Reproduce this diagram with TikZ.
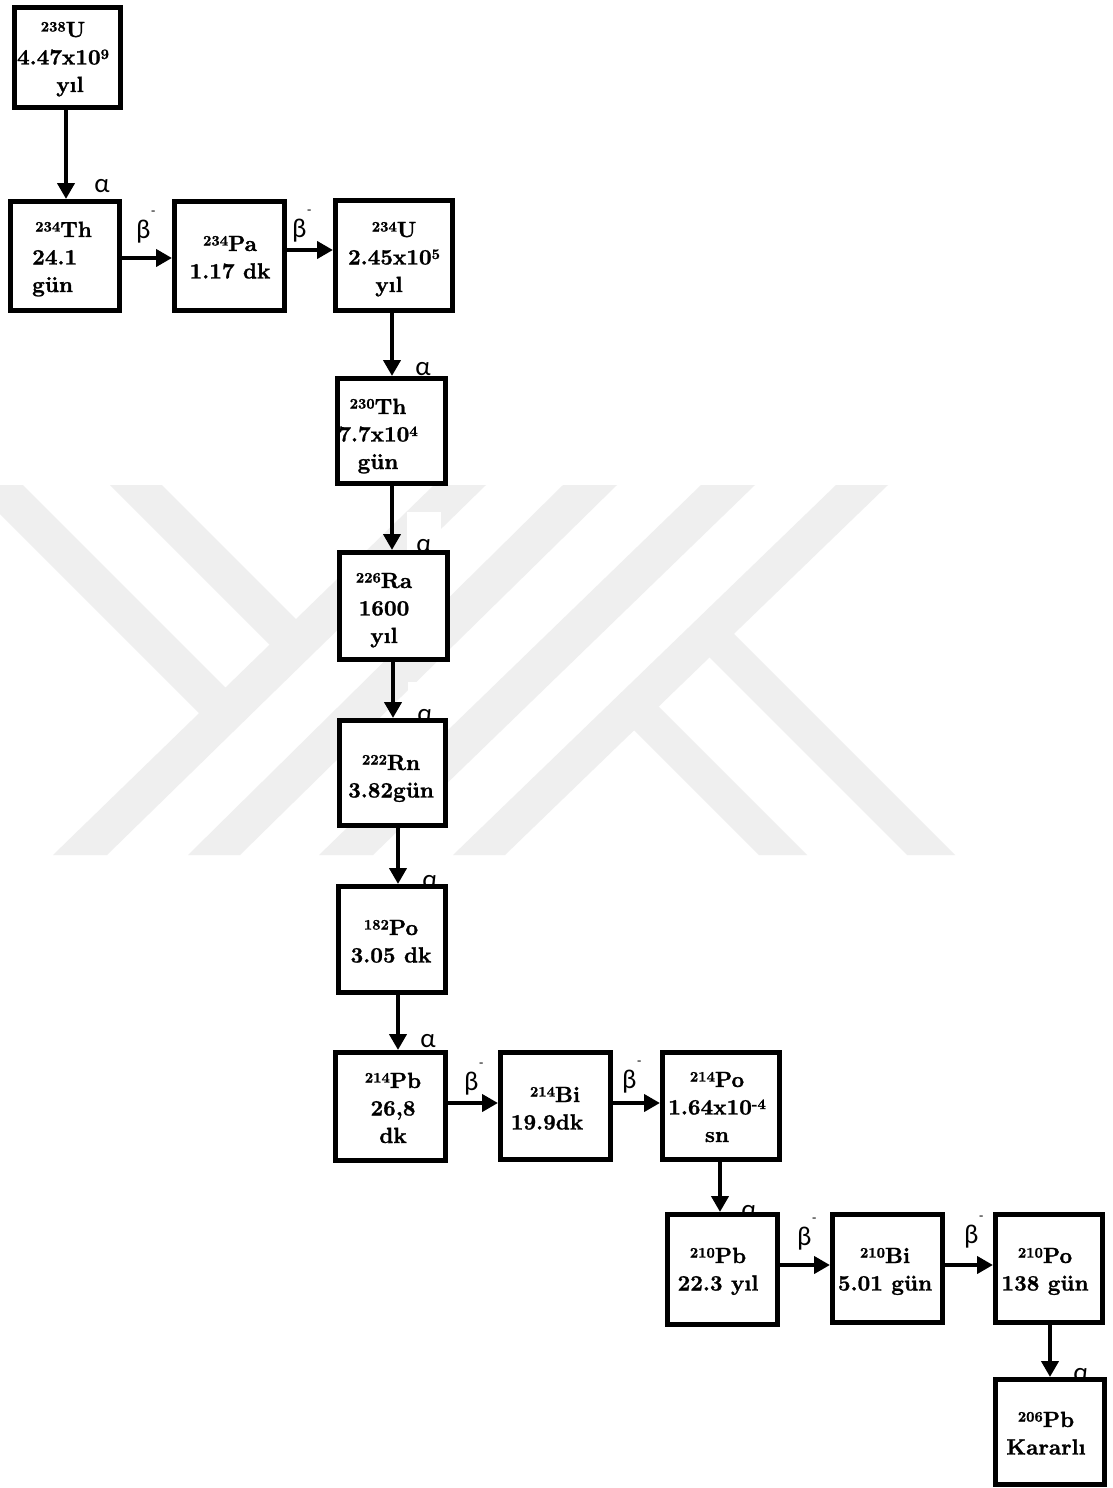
\documentclass[tikz,border=0pt]{standalone}
\usepackage{fontspec}
\newfontfamily\grk{Carlito}
\newfontfamily\bx{lmroman10-bold}[Extension=.otf, FakeBold=1.2]
\usetikzlibrary{arrows.meta}
\pgfdeclarelayer{wml}
\pgfdeclarelayer{labl}
\pgfsetlayers{wml,labl,main}
\definecolor{wm}{RGB}{239,239,239}
\newcommand\isot[2]{\raisebox{5.5pt}{\fontsize{14.5}{14.5}\selectfont #1}#2}
\newcommand\pw[1]{\raisebox{5.5pt}{\fontsize{14.5}{14.5}\selectfont #1}}
\newcommand\betam{β\hspace{0.5pt}\raisebox{23pt}{\fontsize{14}{14}\selectfont -}}
\newcommand\tb[1]{\begin{tabular}[t]{@{}c@{}}#1\end{tabular}}
\tikzset{
  nbox/.style={draw, line width=5pt, fill=white, inner sep=0pt},
  ntext/.style={font=\bx\fontsize{22}{27.5}\selectfont, inner sep=0pt, anchor=base},
  alab/.style={font=\grk\fontsize{27}{27}\selectfont, fill=white, inner sep=0pt, minimum width=34pt, text height=40pt, text depth=0pt, anchor=base},
  blab/.style={font=\grk\fontsize{27}{27}\selectfont, inner sep=0pt, anchor=base west},
  arr/.style={line width=4.5pt, -{Triangle[length=16pt,width=17pt]}},
}
\begin{document}
\begin{tikzpicture}[x=1pt,y=-1pt]
\useasboundingbox (0,0) rectangle (1113,1488);

% watermark
\begin{pgfonlayer}{wml}
\fill[white] (0,0) rectangle (1113,1488);
\begin{scope}
\clip (0,485) rectangle (1113,855);
\fill[wm] (-29,485) -- (23,485) -- (238.3,700.3) -- (211.9,725.9) -- cycle;
\fill[wm] (110,485) -- (162,485) -- (308.8,631.8) -- (282.4,657.4) -- cycle;
\fill[wm] (434,485) -- (486,485) -- (107,855) -- (53,855) -- cycle;
\fill[wm] (563,485) -- (617,485) -- (240,855) -- (188,855) -- cycle;
\fill[wm] (701,485) -- (755,485) -- (373,855) -- (319,855) -- cycle;
\fill[wm] (836,485) -- (888,485) -- (505,855) -- (453,855) -- cycle;
\fill[wm] (645.8,693.8) -- (807,855) -- (759,855) -- (621.4,717.4) -- cycle;
\fill[wm] (721.1,621.1) -- (955,855) -- (907,855) -- (696.7,644.7) -- cycle;
\end{scope}
\end{pgfonlayer}

% boxes
\node[nbox, minimum width=106pt, minimum height=100pt] (u238) at (67.5,57.5) {};
\node[nbox, minimum width=109pt, minimum height=109pt] (th234) at (65,256) {};
\node[nbox, minimum width=110pt, minimum height=109pt] (pa234) at (229.5,256) {};
\node[nbox, minimum width=117pt, minimum height=110pt] (u234) at (394,255.5) {};
\node[nbox, minimum width=108pt, minimum height=105pt] (th230) at (391.5,431) {};
\node[nbox, minimum width=108pt, minimum height=107pt] (ra226) at (393.5,606) {};
\node[nbox, minimum width=106pt, minimum height=105pt] (rn222) at (392.5,773) {};
\node[nbox, minimum width=107pt, minimum height=106pt] (po182) at (392,939.5) {};
\node[nbox, minimum width=110pt, minimum height=108pt] (pb214) at (390.5,1106.5) {};
\node[nbox, minimum width=110pt, minimum height=107pt] (bi214) at (555.5,1106) {};
\node[nbox, minimum width=117pt, minimum height=107pt] (po214) at (721,1106) {};
\node[nbox, minimum width=110pt, minimum height=110pt] (pb210) at (722.5,1269.5) {};
\node[nbox, minimum width=110pt, minimum height=108pt] (bi210) at (887.5,1268.5) {};
\node[nbox, minimum width=107pt, minimum height=108pt] (po210) at (1049,1268.5) {};
\node[nbox, minimum width=109pt, minimum height=105pt] (pb206) at (1050,1432) {};

% decay labels
\begin{pgfonlayer}{labl}
\node[alab] (a1) at (102,192) {α};
\node[alab] (a2) at (423,375) {α};
\node[alab] (a3) at (424,552) {α};
\node[alab] (a4) at (425,722) {α};
\node[alab] (a5) at (430,888) {α};
\node[alab] (a6) at (428,1047) {α};
\node[alab] (a7) at (749,1218) {α};
\node[alab] (a8) at (1081,1381) {α};
\node[blab] (b1) at (136,238) {\betam};
\node[blab] (b2) at (292,237) {\betam};
\node[blab] (b3) at (464,1090) {\betam};
\node[blab] (b4) at (622,1088) {\betam};
\node[blab] (b5) at (797,1245) {\betam};
\node[blab] (b6) at (964,1243) {\betam};
\end{pgfonlayer}

% arrows
\draw[arr] ([xshift=-1.5pt]u238.south) -- ([xshift=-1.5pt]u238.south |- th234.north);
\draw[arr] ([yshift=-2pt]th234.east) -- ([yshift=-2pt]th234.east -| pa234.west);
\draw[arr] ([yshift=6pt]pa234.east) -- ([yshift=6pt]pa234.east -| u234.west);
\draw[arr] ([xshift=-2pt]u234.south) -- ([xshift=-2pt]u234.south |- th230.north);
\draw[arr] ([xshift=0.5pt]th230.south) -- ([xshift=0.5pt]th230.south |- ra226.north);
\draw[arr] ([xshift=-0.5pt]ra226.south) -- ([xshift=-0.5pt]ra226.south |- rn222.north);
\draw[arr] ([xshift=5.5pt]rn222.south) -- ([xshift=5.5pt]rn222.south |- po182.north);
\draw[arr] ([xshift=6pt]po182.south) -- ([xshift=6pt]po182.south |- pb214.north);
\draw[arr] ([yshift=3.5pt]pb214.east) -- ([yshift=3.5pt]pb214.east -| bi214.west);
\draw[arr] ([yshift=3pt]bi214.east) -- ([yshift=3pt]bi214.east -| po214.west);
\draw[arr] ([xshift=-1pt]po214.south) -- ([xshift=-1pt]po214.south |- pb210.north);
\draw[arr] ([yshift=4.5pt]pb210.east) -- ([yshift=4.5pt]pb210.east -| bi210.west);
\draw[arr] ([yshift=3.5pt]bi210.east) -- ([yshift=3.5pt]bi210.east -| po210.west);
\draw[arr] ([xshift=1pt]po210.south) -- ([xshift=1pt]po210.south |- pb206.north);

% box texts
\node[ntext] (t1) at (63,37) {\tb{\isot{238}{U}\\4.47x10\pw{9}\\\hspace*{14pt}yıl}};
\node[ntext, anchor=base west] (t2) at (32,237) {\begin{tabular}[t]{@{}l@{}}\hspace*{3pt}\isot{234}{Th}\\24.1\\gün\end{tabular}};
\node[ntext] (t3) at (230,251) {\tb{\isot{234}{Pa}\\1.17 dk}};
\node[ntext] (t4) at (394,237) {\tb{\isot{234}{U}\\2.45x10\pw{5}\\\hspace*{-10pt}yıl}};
\node[ntext] (t5) at (378,414) {\tb{\isot{230}{Th}\\7.7x10\pw{4}\\gün}};
\node[ntext] (t6) at (384,588) {\tb{\isot{226}{Ra}\\1600\\yıl}};
\node[ntext] (t7) at (391,770) {\tb{\isot{222}{Rn}\\3.82gün}};
\node[ntext] (t8) at (391,935) {\tb{\isot{182}{Po}\\3.05 dk}};
\node[ntext] (t9) at (393,1088) {\tb{\isot{214}{Pb}\\26,8\\dk}};
\node[ntext] (t10) at (547,1102) {\tb{\hspace*{16pt}\isot{214}{Bi}\\19.9dk}};
\node[ntext] (t11) at (717,1087) {\tb{\isot{214}{Po}\\1.64x10\pw{-4}\\sn}};
\node[ntext] (t12) at (718,1263) {\tb{\isot{210}{Pb}\\22.3 yıl}};
\node[ntext] (t13) at (885,1263) {\tb{\isot{210}{Bi}\\5.01 gün}};
\node[ntext] (t14) at (1045,1263) {\tb{\isot{210}{Po}\\138 gün}};
\node[ntext] (t15) at (1046,1427) {\tb{\isot{206}{Pb}\\Kararlı}};
\end{tikzpicture}
\end{document}
